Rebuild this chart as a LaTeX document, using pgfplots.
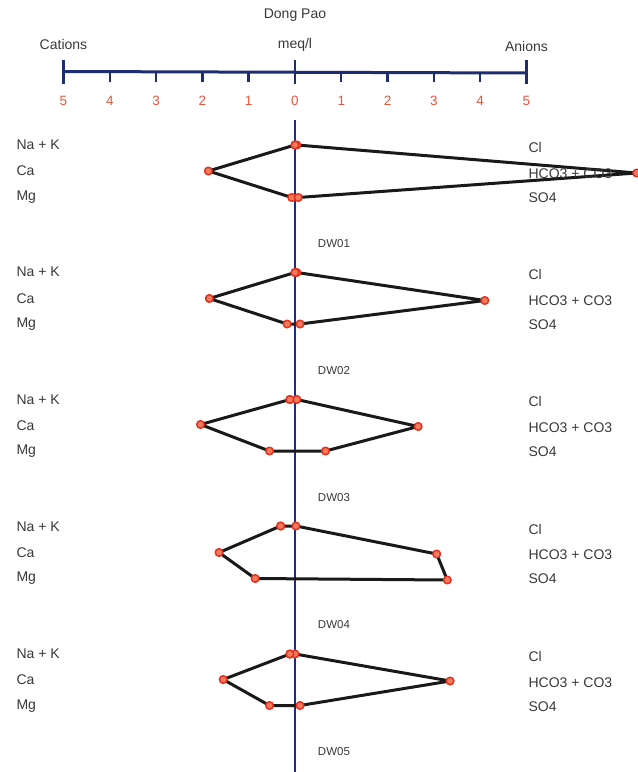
\documentclass[border=0pt]{standalone}
\usepackage{pgfplots}
\pgfplotsset{compat=1.18}
\usepackage{fontspec}
\setmainfont{Liberation Sans}
\definecolor{txt}{HTML}{383838}
\definecolor{tickred}{HTML}{E8553C}
\definecolor{navy}{HTML}{1E2C70}
\definecolor{vblue}{HTML}{1B2A95}
\definecolor{mred}{HTML}{E4321E}
\definecolor{mfill}{HTML}{F27A5E}
\newcommand{\lab}{\fontsize{14bp}{16bp}\selectfont}
\newcommand{\sml}{\fontsize{11.5bp}{13bp}\selectfont}
\begin{document}
\begin{tikzpicture}
\begin{axis}[
  scale only axis, width=638bp, height=772bp,
  xmin=-6.371, xmax=7.408, ymin=0, ymax=772, y dir=reverse,
  axis lines=none, clip=false,
  stiff/.style={draw=black!90, line width=3bp, line join=round, mark=*,
    mark size=3.8bp, mark options={draw=mred, fill=mfill, line width=1.5bp}},
]
\coordinate (SW) at (rel axis cs:0,0);
\coordinate (NE) at (rel axis cs:1,1);
% header
\node[txt, font=\lab] at (axis cs:0,15) {Dong Pao};
\node[txt, font=\lab] at (axis cs:-5,44) {Cations};
\node[txt, font=\lab] at (axis cs:0,45) {meq/l};
\node[txt, font=\lab] at (axis cs:5,46) {Anions};
% top scale
\draw[navy, line width=3bp] (axis cs:-5,71.5) -- (axis cs:5,73);
\pgfplotsinvokeforeach{-5,0,5}{\draw[navy, line width=2.4bp] (axis cs:#1,60) -- (axis cs:#1,84);}
\pgfplotsinvokeforeach{-4,-3,-2,-1,1,2,3,4}{\draw[navy, line width=2.4bp] (axis cs:#1,72) -- (axis cs:#1,82);}
\pgfplotsinvokeforeach{-5,-4,-3,-2,-1,0,1,2,3,4,5}{%
  \node[tickred, font=\fontsize{13.5bp}{15bp}\selectfont] at (axis cs:#1,101) {\ifnum#1<0 \number-#1\else#1\fi};}
% central axis
\draw[vblue, line width=2.7bp] (axis cs:0,120) -- (axis cs:0,772);
% DW01
\addplot[stiff] coordinates {(0.00,145) (-1.87,171) (-0.07,197.5) (0.07,197.5) (7.38,173) (0.04,145) (0.00,145)};
% DW02
\addplot[stiff] coordinates {(0.00,272.5) (-1.85,298.5) (-0.17,324) (0.11,324) (4.10,300.5) (0.04,272.5) (0.00,272.5)};
% DW03
\addplot[stiff] coordinates {(-0.11,399.5) (-2.04,424.5) (-0.55,451) (0.66,451) (2.66,426.5) (0.04,399.5) (-0.11,399.5)};
% DW04
\addplot[stiff] coordinates {(-0.31,526) (-1.64,552.5) (-0.86,578.5) (3.29,580) (3.06,554) (0.02,526) (-0.31,526)};
% DW05
\addplot[stiff] coordinates {(-0.11,654) (-1.55,679.5) (-0.55,705.5) (0.11,705.5) (3.35,681) (0.00,654) (-0.11,654)};
% labels
\pgfplotsinvokeforeach{0,1,2,3,4}{%
  \node[txt, font=\lab, anchor=west] at (axis cs:-6.09,{145+127.2*#1}) {Na + K};
  \node[txt, font=\lab, anchor=west] at (axis cs:-6.09,{171+127.2*#1}) {Ca};
  \node[txt, font=\lab, anchor=west] at (axis cs:-6.09,{197+127.2*#1}) {Mg};
  \node[txt, font=\lab, anchor=west] at (axis cs:4.97,{147.5+127.2*#1}) {Cl};
  \node[txt, font=\lab, anchor=west] at (axis cs:4.97,{173.5+127.2*#1}) {HCO3 + CO3};
  \node[txt, font=\lab, anchor=west] at (axis cs:4.97,{197.5+127.2*#1}) {SO4};
  \node[txt, font=\sml, anchor=west] at (axis cs:0.42,{244+127*#1}) {DW0\number\numexpr#1+1\relax};
}
\end{axis}
\pgfresetboundingbox
\useasboundingbox (SW) rectangle (NE);
\end{tikzpicture}
\end{document}
